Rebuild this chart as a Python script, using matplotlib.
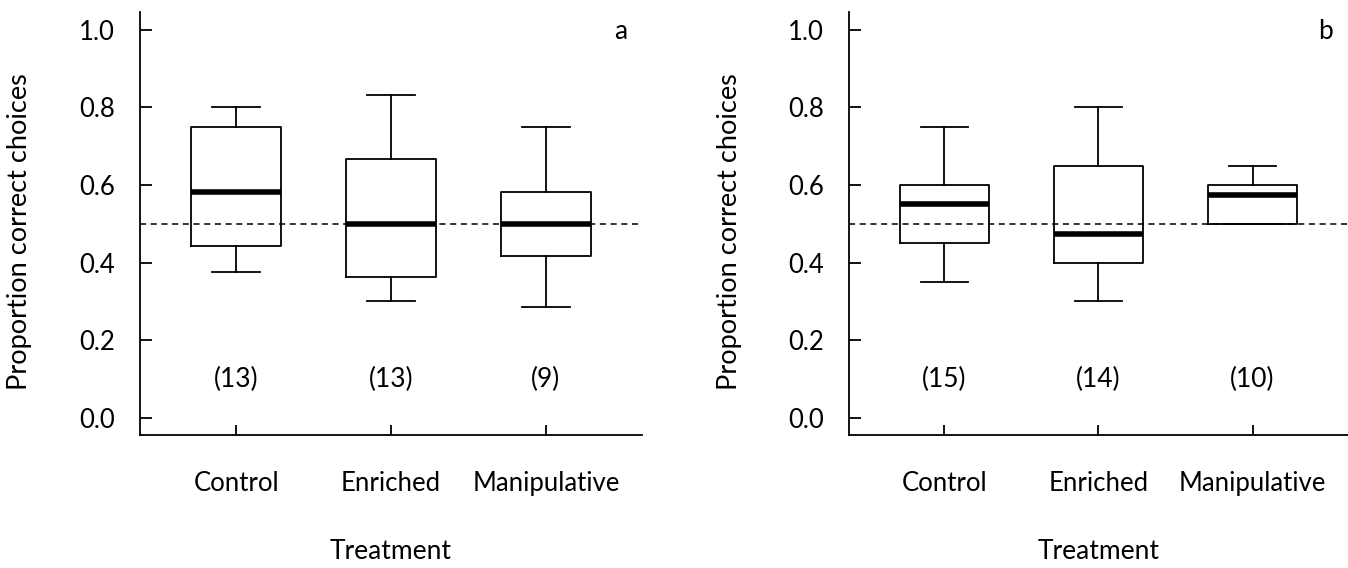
import matplotlib
matplotlib.use("Agg")
from matplotlib import pyplot as plt

plt.rcParams['font.family'] = ['Lato', 'DejaVu Sans']

treatments = ["Control", "Enriched", "Manipulative"]

# panel a: whisker low, q1, median, q3, whisker high
a_lo = [0.375, 0.300, 0.286]
a_q1 = [0.444, 0.364, 0.417]
a_med = [0.583, 0.500, 0.500]
a_q3 = [0.750, 0.667, 0.583]
a_hi = [0.800, 0.833, 0.750]
a_n = [13, 13, 9]

# panel b
b_lo = [0.350, 0.300, 0.500]
b_q1 = [0.450, 0.400, 0.500]
b_med = [0.550, 0.475, 0.575]
b_q3 = [0.600, 0.650, 0.600]
b_hi = [0.750, 0.800, 0.650]
b_n = [15, 14, 10]

fs = 18.5


def panel(ax, lo, q1, med, q3, hi, n, letter):
    stats = []
    for i in range(len(treatments)):
        stats.append(dict(whislo=lo[i], q1=q1[i], med=med[i], q3=q3[i],
                          whishi=hi[i], fliers=[], label=treatments[i]))
    pos = [1, 2, 3]
    ax.bxp(stats, positions=pos, widths=0.58, showfliers=False,
           boxprops=dict(color="black", linewidth=1.3),
           whiskerprops=dict(color="black", linewidth=1.3),
           capprops=dict(color="black", linewidth=1.3),
           medianprops=dict(color="black", linewidth=4, solid_capstyle="butt"),
           capwidths=0.31)
    ax.axhline(0.5, color="black", linestyle=(0, (4, 3)), linewidth=1.1, zorder=0)
    for p, k in zip(pos, n):
        ax.text(p, 0.1, "(%d)" % k, ha="center", va="center", fontsize=19)
    ax.text(0.97, 0.955, letter, transform=ax.transAxes, ha="right",
            va="center", fontsize=19)
    ax.set_xlim(0.38, 3.62)
    ax.set_ylim(-0.044, 1.046)
    ax.set_yticks([0.0, 0.2, 0.4, 0.6, 0.8, 1.0])
    ax.set_yticklabels(["0.0", "0.2", "0.4", "0.6", "0.8", "1.0"])
    ax.set_xticks(pos)
    ax.set_xticklabels(treatments)
    ax.spines["top"].set_visible(False)
    ax.spines["right"].set_visible(False)
    ax.spines["left"].set_linewidth(1.3)
    ax.spines["bottom"].set_linewidth(1.3)
    ax.tick_params(axis="y", direction="in", length=8.5, width=1.3,
                   labelsize=fs, pad=18)
    ax.tick_params(axis="x", direction="in", length=7.5, width=1.3,
                   labelsize=fs, pad=26)
    ax.set_ylabel("Proportion correct choices", fontsize=19.5)
    ax.yaxis.set_label_coords(-0.215, 0.48)
    ax.set_xlabel("Treatment", fontsize=19, labelpad=31)


fig = plt.figure(figsize=(13.48, 5.68), dpi=100)
ax1 = fig.add_axes([0.1039, 0.2342, 0.3724, 0.7447])
ax2 = fig.add_axes([0.6298, 0.2342, 0.3702, 0.7447])
panel(ax1, a_lo, a_q1, a_med, a_q3, a_hi, a_n, "a")
panel(ax2, b_lo, b_q1, b_med, b_q3, b_hi, b_n, "b")

fig.savefig("out.png", dpi=100)
